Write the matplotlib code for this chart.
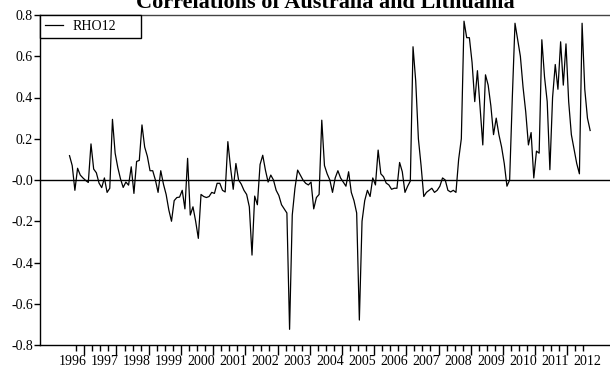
import matplotlib.pyplot as plt
import numpy as np

# monthly DCC correlation, first obs 1995M12
start_year = 1995
start_month = 12
rho12 = [
    0.118, 0.07, -0.05, 0.057, 0.024, 0.01, -0.002, -0.012, 0.175, 0.053,
    0.035, -0.015, -0.037, 0.01, -0.06, -0.04, 0.294, 0.13, 0.06, 0.005,
    -0.036, -0.01, -0.025, 0.064, -0.065, 0.09, 0.095, 0.267, 0.16, 0.115,
    0.045, 0.045, 0.0, -0.06, 0.045, -0.02, -0.07, -0.145, -0.2, -0.1,
    -0.085, -0.083, -0.05, -0.14, 0.105, -0.17, -0.13, -0.2, -0.283, -0.07,
    -0.08, -0.085, -0.08, -0.06, -0.065, -0.016, -0.016, -0.05, -0.058, 0.186,
    0.06, -0.045, 0.08, 0.0, -0.02, -0.05, -0.07, -0.13, -0.364, -0.078,
    -0.12, 0.075, 0.12, 0.048, -0.01, 0.024, 0.0, -0.05, -0.075, -0.12,
    -0.14, -0.16, -0.724, -0.17, -0.04, 0.048, 0.024, 0.0, -0.016, -0.024,
    -0.01, -0.14, -0.085, -0.07, 0.29, 0.07, 0.03, 0.0, -0.06, 0.01,
    0.045, 0.01, -0.01, -0.03, 0.04, -0.06, -0.1, -0.16, -0.679, -0.2,
    -0.1, -0.05, -0.08, 0.01, -0.024, 0.145, 0.03, 0.016, -0.015, -0.024,
    -0.045, -0.04, -0.04, 0.085, 0.04, -0.06, -0.03, -0.005, 0.646, 0.48,
    0.2, 0.07, -0.08, -0.06, -0.05, -0.04, -0.06, -0.05, -0.03, 0.01,
    0.0, -0.05, -0.058, -0.05, -0.06, 0.1, 0.2, 0.77, 0.69, 0.69,
    0.57, 0.38, 0.53, 0.35, 0.17, 0.51, 0.46, 0.36, 0.22, 0.3,
    0.22, 0.16, 0.08, -0.03, 0.0, 0.4, 0.76, 0.68, 0.6, 0.45,
    0.33, 0.17, 0.23, 0.01, 0.14, 0.13, 0.68, 0.5, 0.38, 0.05,
    0.4, 0.56, 0.44, 0.67, 0.46, 0.66, 0.38, 0.22, 0.15, 0.08,
    0.03, 0.76, 0.44, 0.3, 0.24,
]
years = list(range(1996, 2013))
yticks = [-0.8, -0.6, -0.4, -0.2, 0.0, 0.2, 0.4, 0.6, 0.8]
ylabels = ["-0.8", "-0.6", "-0.4", "-0.2", "-0.0", "0.2", "0.4", "0.6", "0.8"]

t = start_year + (start_month - 1) / 12 + np.arange(len(rho12)) / 12

plt.rcParams['font.family'] = ['Liberation Serif', 'DejaVu Serif']
fig = plt.figure(figsize=(6.1, 3.7), dpi=100)
ax = fig.add_axes([40 / 610, 25 / 370, 1.0 - 40 / 610, 330 / 370])

ax.plot(t, rho12, color='black', lw=0.9, label='RHO12')
ax.axhline(0, color='black', lw=1)

ax.set_xlim(1995.0, 2012.7)
ax.set_ylim(-0.8, 0.8)
ax.spines['right'].set_visible(False)
for s in ['left', 'top', 'bottom']:
    ax.spines[s].set_linewidth(1)
ax.spines['top'].set_color('#444444')

ax.set_yticks(yticks, ylabels)
ax.tick_params(axis='y', direction='out', length=4, width=1, labelsize=10, pad=1)

# year labels (no tick), ticks drawn on a secondary axis
ax.set_xticks(years, [str(y) for y in years])
ax.tick_params(axis='x', length=0, labelsize=10, pad=7)
sec = ax.secondary_xaxis('bottom')
sec.set_xticks(np.arange(1996.375, 2012, 1.0), [])
sec.set_xticks(np.arange(1996.125, 2012, 0.25), minor=True)
sec.tick_params(which='major', length=7, width=1, direction='out')
sec.tick_params(which='minor', length=4, width=1, direction='out')
sec.spines['bottom'].set_visible(False)

leg = ax.legend(loc='upper left', bbox_to_anchor=(0, 1, 101 / 570, 0), mode='expand',
                borderaxespad=0, fancybox=False, framealpha=1, fontsize=10,
                handlelength=1.3, handletextpad=0.7, borderpad=0.35)
leg.get_frame().set_edgecolor('black')
leg.get_frame().set_linewidth(1)

fig.text(325 / 610, 1 - 8 / 370, 'Correlations of Australia and Lithuania',
         ha='center', va='baseline', fontsize=16, fontweight='bold')

fig.savefig('out.png', dpi=100)
